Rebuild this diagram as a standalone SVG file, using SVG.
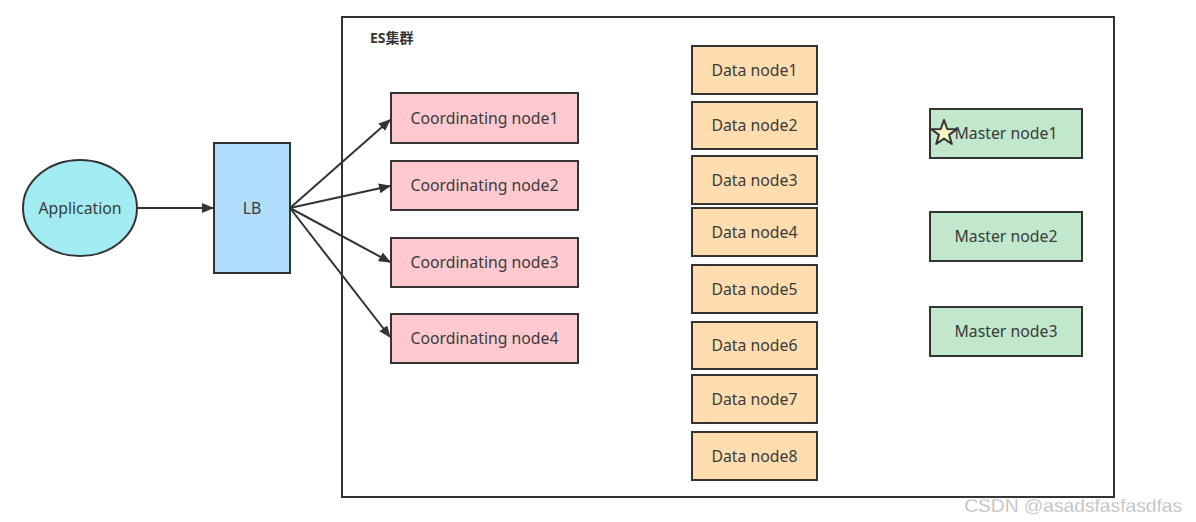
<svg xmlns="http://www.w3.org/2000/svg" width="1196" height="522" viewBox="0 0 1196 522">
<style>
.n{stroke:#333;stroke-width:2}
.t{font-family:"Noto Sans","Noto Sans CJK SC",sans-serif;font-size:15.800px;fill:#3a3a3a;text-anchor:middle;dominant-baseline:central}
.co{fill:#ffc9cf}
.da{fill:#ffddae}
.ma{fill:#c1e7cc}
.c{stroke:#333;stroke-width:2;fill:none;marker-end:url(#ah)}
</style>
<defs>
<marker id="ah" viewBox="0 0 12 10" refX="11" refY="5" markerWidth="12" markerHeight="10" markerUnits="userSpaceOnUse" orient="auto">
<path d="M0,0 L12,5 L0,10 Z" fill="#333"/>
</marker>
</defs>
<rect width="1196" height="522" fill="#fff"/>
<g id="cluster">
<rect x="342" y="17" width="772" height="480" fill="#fff" stroke="#333" stroke-width="2"/>
<text x="370" y="37" font-family="'Noto Sans','Noto Sans CJK SC',sans-serif" font-size="14" font-weight="bold" fill="#333" dominant-baseline="central">ES集群</text>
</g>
<g id="application"><ellipse class="n" cx="80" cy="208" rx="57" ry="48" fill="#a2ecf1"/><text class="t" x="80" y="207.500">Application</text></g>
<g id="lb"><rect class="n" x="214" y="143" width="76" height="130" fill="#b1defa"/><text class="t" x="252" y="207.500">LB</text></g>
<g id="coord1"><rect class="n co" x="391" y="93" width="187" height="50"/><text class="t" x="484.500" y="117.500">Coordinating node1</text></g>
<g id="coord2"><rect class="n co" x="391" y="161" width="187" height="49"/><text class="t" x="484.500" y="185">Coordinating node2</text></g>
<g id="coord3"><rect class="n co" x="391" y="238" width="187" height="49"/><text class="t" x="484.500" y="262">Coordinating node3</text></g>
<g id="coord4"><rect class="n co" x="391" y="314" width="187" height="49"/><text class="t" x="484.500" y="338">Coordinating node4</text></g>
<g id="data1"><rect class="n da" x="692" y="46" width="125" height="48"/><text class="t" x="754.500" y="69.500">Data node1</text></g>
<g id="data2"><rect class="n da" x="692" y="102" width="125" height="47"/><text class="t" x="754.500" y="125">Data node2</text></g>
<g id="data3"><rect class="n da" x="692" y="156" width="125" height="48"/><text class="t" x="754.500" y="179.500">Data node3</text></g>
<g id="data4"><rect class="n da" x="692" y="208" width="125" height="48"/><text class="t" x="754.500" y="231.500">Data node4</text></g>
<g id="data5"><rect class="n da" x="692" y="265" width="125" height="48"/><text class="t" x="754.500" y="288.500">Data node5</text></g>
<g id="data6"><rect class="n da" x="692" y="322" width="125" height="47"/><text class="t" x="754.500" y="345">Data node6</text></g>
<g id="data7"><rect class="n da" x="692" y="375" width="125" height="48"/><text class="t" x="754.500" y="398.500">Data node7</text></g>
<g id="data8"><rect class="n da" x="692" y="432" width="125" height="48"/><text class="t" x="754.500" y="455.500">Data node8</text></g>
<g id="master1"><rect class="n ma" x="930" y="109" width="152" height="49"/><text class="t" x="1006" y="133">Master node1</text>
<path d="M944,120 L947.200,129 L956.600,129.200 L949.100,134.900 L951.800,144 L944,138.600 L936.200,144 L938.900,134.900 L931.400,129.200 L940.800,129 Z" fill="#fff6c4" stroke="#333" stroke-width="2" stroke-linejoin="round"/></g>
<g id="master2"><rect class="n ma" x="930" y="212" width="152" height="49"/><text class="t" x="1006" y="236">Master node2</text></g>
<g id="master3"><rect class="n ma" x="930" y="307" width="152" height="49"/><text class="t" x="1006" y="331">Master node3</text></g>
<g id="connectors">
<path class="c" d="M137,208 L213,208"/>
<path class="c" d="M290,208 L390,120"/>
<path class="c" d="M290,208 L390,186"/>
<path class="c" d="M290,208 L390,262"/>
<path class="c" d="M290,208 L390,337"/>
</g>
<text x="1182" y="512" font-family="'Liberation Sans',Arial,sans-serif" font-size="19.200" fill="#b4b4b4" stroke="#fff" stroke-width="0.300" text-anchor="end">CSDN @asadsfasfasdfas</text>
</svg>
